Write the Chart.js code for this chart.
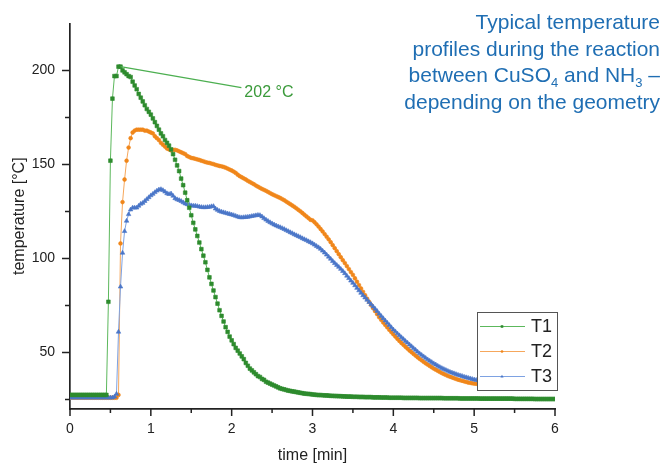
<!DOCTYPE html>
<html>
<head>
<meta charset="utf-8">
<script src="https://cdn.jsdelivr.net/npm/chart.js@4.4.1/dist/chart.umd.min.js"></script>
<style>
  body { margin: 0; background: #fff; }
  #wrap { position: relative; width: 664px; height: 466px; }
  #chart { display: block; }
  #headline {
    position: absolute; right: 4px; top: 9px; text-align: right;
    font-family: "Liberation Sans", Arial, sans-serif; font-size: 21px;
    line-height: 26.5px; color: #1f6eb3;
  }
  .sub { font-size: 13px; position: relative; top: 5px; line-height: 0; }
</style>
</head>
<body>
<div id="wrap">
  <canvas id="chart" width="664" height="466"></canvas>
  <div id="headline">Typical temperature<br>profiles during the reaction<br>between CuSO<span class="sub">4</span> and NH<span class="sub">3</span> –<br>depending on the geometry</div>
</div>
<script>
// sampling every 0.025 min, one row = half a minute
const sampleStep = 0.025;

const t1Values = [
  27.5, 27.5, 27.5, 27.5, 27.5, 27.5, 27.5, 27.5, 27.5, 27.5, 27.5, 27.5, 27.5, 27.5, 27.5, 27.5, 27.5, 27.5, 27.5, 77,
  152, 185, 197, 197, 202, 202, 200, 199, 198, 197, 196.5, 194, 192, 190, 187.5, 185.5, 183.5, 181.5, 179.5, 178,
  176.5, 174.5, 172.5, 170.5, 168.5, 166.5, 165, 163, 161.5, 160, 158, 155.5, 152.5, 149.5, 146.5, 142.5, 139, 135, 131, 127,
  123, 119, 115.5, 112, 108.5, 105, 101.5, 98, 94, 90, 86.5, 83, 79.5, 76, 72.5, 69.5, 66.5, 63.5, 61, 58.5,
  56.5, 54.5, 52.5, 51, 49.5, 48, 46.5, 44.5, 43, 41.5, 40.5, 39.5, 38.5, 37.5, 37, 36, 35.5, 34.5, 34, 33.5,
  33, 32.5, 32, 31.5, 31, 30.7, 30.4, 30.1, 29.8, 29.6, 29.4, 29.2, 29, 28.8, 28.6, 28.4, 28.2, 28.1, 28, 27.9,
  27.7, 27.6, 27.5, 27.4, 27.4, 27.3, 27.2, 27.2, 27.1, 27, 27, 26.9, 26.9, 26.8, 26.8, 26.7, 26.7, 26.6, 26.6, 26.6,
  26.5, 26.5, 26.5, 26.4, 26.4, 26.4, 26.3, 26.3, 26.3, 26.3, 26.2, 26.2, 26.2, 26.2, 26.1, 26.1, 26.1, 26.1, 26, 26,
  26, 26, 26, 26, 26, 25.9, 25.9, 25.9, 25.9, 25.9, 25.9, 25.9, 25.9, 25.8, 25.8, 25.8, 25.8, 25.8, 25.8, 25.8,
  25.8, 25.8, 25.8, 25.8, 25.8, 25.7, 25.7, 25.7, 25.7, 25.7, 25.7, 25.7, 25.7, 25.6, 25.6, 25.6, 25.6, 25.6, 25.6, 25.6,
  25.6, 25.6, 25.6, 25.5, 25.5, 25.5, 25.5, 25.5, 25.5, 25.5, 25.5, 25.5, 25.5, 25.5, 25.5, 25.5, 25.5, 25.5, 25.5, 25.5,
  25.4, 25.4, 25.4, 25.4, 25.4, 25.4, 25.4, 25.4, 25.4, 25.4, 25.3, 25.3, 25.3, 25.3, 25.3, 25.3, 25.3, 25.3, 25.3, 25.3,
  25.3
];

const t2Values = [
  26, 26, 26, 26, 26, 26, 26, 26, 26, 26, 26, 26, 26, 26, 26, 26, 26, 26, 26, 26,
  26, 26, 26, 26, 27.5, 108, 130, 142, 152, 159, 164, 167, 168, 168.5, 168.5, 168.5, 168.5, 168, 168, 167.5,
  167, 166.5, 165, 164, 163, 161.5, 160.5, 159.5, 158.5, 158, 157.5, 157.8, 157.8, 157.5, 157, 156.5, 156, 155.5, 154.5, 154,
  153.5, 153.3, 153, 152.7, 152.4, 152, 151.7, 151.3, 151, 150.8, 150.5, 150.2, 149.8, 149.5, 149.2, 149, 148.7, 148.3, 147.8, 147.3,
  146.8, 146.2, 145.5, 144.6, 143.8, 143.2, 142.6, 142, 141.3, 140.7, 140.1, 139.5, 138.8, 138.2, 137.6, 137, 136.5, 136, 135.4, 134.8,
  134.2, 133.7, 133.2, 132.7, 132.2, 131.6, 131, 130.3, 129.6, 128.9, 128.2, 127.5, 126.7, 125.9, 125.1, 124.2, 123.3, 122.4, 121.5, 120.6,
  120.3, 119.3, 118.2, 117, 115.7, 114.4, 113, 111.6, 110.2, 108.7, 107.1, 105.5, 103.9, 102.3, 100.7, 99.1, 97.6, 96, 94.4, 92.8,
  91.3, 89.5, 87.7, 85.9, 84.1, 82.3, 80.5, 78.7, 77, 75.3, 73.6, 72, 70.4, 68.8, 67.4, 66, 64.7, 63.4, 62.1, 60.9,
  59.7, 58.5, 57.3, 56.2, 55.1, 54.1, 53.1, 52.1, 51.1, 50.2, 49.3, 48.4, 47.5, 46.7, 45.9, 45.1, 44.3, 43.6, 42.9, 42.2,
  41.5, 40.9, 40.3, 39.7, 39.1, 38.6, 38.1, 37.6, 37.2, 36.8, 36.4, 36, 35.6, 35.3, 35, 34.7, 34.4, 34.1, 33.9, 33.7,
  33.5, 33.4, 33.3, 33.2, 33.1, 33, 32.9, 32.8, 32.7, 32.6, 32.5, 32.4, 32.3, 32.3, 32.2, 32.1, 32.1, 32, 31.9, 31.9,
  31.8, 31.8, 31.7, 31.7, 31.6, 31.6, 31.5, 31.5, 31.5, 31.4, 31.4, 31.4, 31.3, 31.3, 31.3, 31.2, 31.2, 31.2, 31.1, 31.1,
  31.1
];

const t3Values = [
  26, 26, 26, 26, 26, 26, 26, 26, 26, 26, 26, 26, 26, 26, 26, 26, 26, 26, 26, 26,
  26, 26, 26.5, 28, 61, 85, 103, 114.5, 120, 123.5, 126, 127, 127, 127, 128, 129, 129.5, 130.5, 131.5, 132.5,
  133.5, 134.3, 135.2, 136, 136.6, 136.8, 136.3, 135.5, 134.6, 134.2, 134.5, 133.3, 132, 131.4, 131, 130.5, 129.8, 129.2, 128.8, 128.5,
  128.2, 128, 128, 127.8, 127.5, 127.3, 127.2, 127.2, 127.3, 127.4, 127.7, 127.8, 126.5, 125.8, 125.2, 124.8, 124.5, 124.2, 123.9, 123.6,
  123.3, 123, 122.6, 122.2, 121.9, 121.8, 121.9, 122, 122.1, 122.3, 122.5, 122.7, 122.9, 123.1, 123, 122.3, 121.4, 120.6, 119.9, 119.2,
  118.6, 118, 117.5, 117, 116.6, 116.1, 115.6, 115, 114.5, 113.9, 113.4, 112.8, 112.3, 111.8, 111.3, 110.7, 110.2, 109.7, 109.1, 108.6,
  108, 107.3, 106.6, 105.9, 105.1, 104.1, 103.1, 102, 100.9, 99.8, 98.6, 97.5, 96.5, 95.5, 94.4, 93.3, 92.1, 90.8, 89.5, 88.2,
  87, 85.7, 84.3, 83, 81.7, 80.4, 79.2, 78, 76.8, 75.6, 74.4, 73.2, 72, 70.6, 69.4, 68.2, 67, 65.8, 64.6, 63.4,
  62.2, 61.2, 60.1, 59.1, 58.1, 57.1, 56.1, 55.2, 54.2, 53.3, 52.3, 51.4, 50.4, 49.5, 48.7, 47.9, 47.1, 46.3, 45.6, 44.9,
  44.2, 43.6, 42.9, 42.3, 41.7, 41.2, 40.7, 40.2, 39.7, 39.3, 38.9, 38.5, 38.1, 37.8, 37.5, 37.1, 36.8, 36.5, 36.2, 35.9,
  35.6, 35.4, 35.2, 35, 34.8, 34.6, 34.5, 34.3, 34.2, 34, 33.9, 33.8, 33.7, 33.6, 33.5, 33.4, 33.3, 33.2, 33.1, 33,
  32.9, 32.8, 32.8, 32.7, 32.7, 32.6, 32.5, 32.5, 32.4, 32.4, 32.3, 32.3, 32.2, 32.2, 32.2, 32.1, 32.1, 32, 32, 32,
  31.9
];

const seriesNames = ["T1", "T2", "T3"];
const xMajorTicks = [0, 1, 2, 3, 4, 5, 6];
const xMinorTicks = [0.5, 1.5, 2.5, 3.5, 4.5, 5.5];
const yMajorTicks = [50, 100, 150, 200];
const yMinorTicks = [25, 75, 125, 175];
const peakLabelAt = { time: 2.12, temp: 190.9 };

const fontFamily = '"Liberation Sans", Arial, sans-serif';
const axisColor = "#222";

function toPoints(values) {
  return values.map((v, i) => ({ x: i * sampleStep, y: v }));
}

const seriesStyles = [
  { line: "#5cb85c", mark: "#2e8b2e", shape: "rect", radius: 2.6 },
  { line: "#f6a75c", mark: "#f0861a", shape: "circle", radius: 1.9 },
  { line: "#7ea2e2", mark: "#4a76c8", shape: "triangle", radius: 2.6 },
];

function makeDataset(index, values, order) {
  const s = seriesStyles[index];
  return {
    label: seriesNames[index],
    data: toPoints(values),
    order: order,
    borderColor: s.line,
    borderWidth: 1,
    pointStyle: s.shape,
    pointRadius: s.radius,
    pointBackgroundColor: s.mark,
    pointBorderColor: s.mark,
    pointBorderWidth: 0.6,
    tension: 0,
  };
}

function drawMarker(ctx, shape, x, y, r) {
  ctx.beginPath();
  if (shape === "rect") {
    const h = r * Math.SQRT1_2;
    ctx.rect(x - h, y - h, 2 * h, 2 * h);
  } else if (shape === "triangle") {
    ctx.moveTo(x, y - r);
    ctx.lineTo(x + r * 0.87, y + r * 0.5);
    ctx.lineTo(x - r * 0.87, y + r * 0.5);
    ctx.closePath();
  } else {
    ctx.arc(x, y, r, 0, Math.PI * 2);
  }
  ctx.fill();
}

const tickMarks = {
  id: "tickMarks",
  afterDraw(chart) {
    const { ctx, chartArea, scales } = chart;
    const x = scales.x;
    const y = scales.y;
    ctx.save();
    ctx.strokeStyle = axisColor;
    ctx.lineWidth = 1.5;
    ctx.beginPath();
    for (const v of yMajorTicks) {
      const p = y.getPixelForValue(v);
      ctx.moveTo(chartArea.left, p);
      ctx.lineTo(chartArea.left - 8, p);
    }
    for (const v of yMinorTicks) {
      const p = y.getPixelForValue(v);
      ctx.moveTo(chartArea.left, p);
      ctx.lineTo(chartArea.left - 5, p);
    }
    for (const v of xMajorTicks) {
      const p = x.getPixelForValue(v);
      ctx.moveTo(p, chartArea.bottom);
      ctx.lineTo(p, chartArea.bottom + 7);
    }
    for (const v of xMinorTicks) {
      const p = x.getPixelForValue(v);
      ctx.moveTo(p, chartArea.bottom);
      ctx.lineTo(p, chartArea.bottom + 4);
    }
    ctx.stroke();
    ctx.restore();
  },
};

const peakNote = {
  id: "peakNote",
  afterDatasetsDraw(chart) {
    const { ctx, scales } = chart;
    const peak = Math.max(...t1Values);
    const i = t1Values.lastIndexOf(peak);
    const px = scales.x.getPixelForValue(i * sampleStep);
    const py = scales.y.getPixelForValue(peak);
    const lx = scales.x.getPixelForValue(peakLabelAt.time);
    const ly = scales.y.getPixelForValue(peakLabelAt.temp);
    ctx.save();
    ctx.strokeStyle = "#4caf50";
    ctx.lineWidth = 1.2;
    ctx.beginPath();
    ctx.moveTo(px, py);
    ctx.lineTo(lx, ly);
    ctx.stroke();
    ctx.fillStyle = "#3a9a3a";
    ctx.font = "16px " + fontFamily;
    ctx.textBaseline = "middle";
    ctx.fillText(peak + " °C", lx + 3, ly + 5);
    ctx.restore();
  },
};

const boxLegend = {
  id: "boxLegend",
  afterDatasetsDraw(chart) {
    const { ctx, chartArea } = chart;
    const w = 80, h = 78;
    const left = chartArea.right - 78;
    const top = chartArea.bottom - 97;
    ctx.save();
    ctx.fillStyle = "#fff";
    ctx.fillRect(left, top, w, h);
    ctx.strokeStyle = "#555";
    ctx.lineWidth = 1;
    ctx.strokeRect(left + 0.5, top + 0.5, w, h);
    ctx.font = "18px " + fontFamily;
    ctx.textBaseline = "middle";
    seriesNames.forEach((name, k) => {
      const s = seriesStyles[k];
      const ry = top + 14.5 + k * 25;
      ctx.strokeStyle = s.line;
      ctx.lineWidth = 1.2;
      ctx.beginPath();
      ctx.moveTo(left + 3, ry);
      ctx.lineTo(left + 48, ry);
      ctx.stroke();
      ctx.fillStyle = s.mark;
      drawMarker(ctx, s.shape, left + 25, ry, s.radius * 0.7);
      ctx.fillStyle = axisColor;
      ctx.fillText(name, left + 54, ry + 1);
    });
    ctx.restore();
  },
};

new Chart(document.getElementById("chart"), {
  type: "line",
  data: {
    datasets: [
      makeDataset(0, t1Values, 0),
      makeDataset(1, t2Values, 2),
      makeDataset(2, t3Values, 1),
    ],
  },
  options: {
    responsive: false,
    animation: false,
    layout: { padding: { top: 19, right: 109, left: 0, bottom: 0 } },
    plugins: { legend: { display: false }, tooltip: { enabled: false } },
    scales: {
      x: {
        type: "linear",
        min: 0,
        max: 6,
        afterFit: (s) => { s.height = 57; },
        afterBuildTicks: (s) => { s.ticks = xMajorTicks.map((v) => ({ value: v })); },
        grid: { display: false, drawTicks: false },
        border: { display: true, color: axisColor, width: 1.7 },
        ticks: {
          color: axisColor, padding: 12, autoSkip: false, maxRotation: 0,
          font: { family: fontFamily, size: 14 },
        },
        title: {
          display: true, text: "time [min]", color: axisColor,
          font: { family: fontFamily, size: 16 }, padding: { top: 0, bottom: 1 },
        },
      },
      y: {
        type: "linear",
        min: 20,
        max: 225,
        afterFit: (s) => { s.width = 70; },
        afterBuildTicks: (s) => { s.ticks = yMajorTicks.map((v) => ({ value: v })); },
        grid: { display: false, drawTicks: false },
        border: { display: true, color: axisColor, width: 1.7 },
        ticks: {
          color: axisColor, padding: 15,
          font: { family: fontFamily, size: 14 },
        },
        title: {
          display: true, text: "temperature [°C]", color: axisColor,
          font: { family: fontFamily, size: 16 }, padding: { top: 10, bottom: 0 },
        },
      },
    },
  },
  plugins: [tickMarks, peakNote, boxLegend],
});
</script>
</body>
</html>
